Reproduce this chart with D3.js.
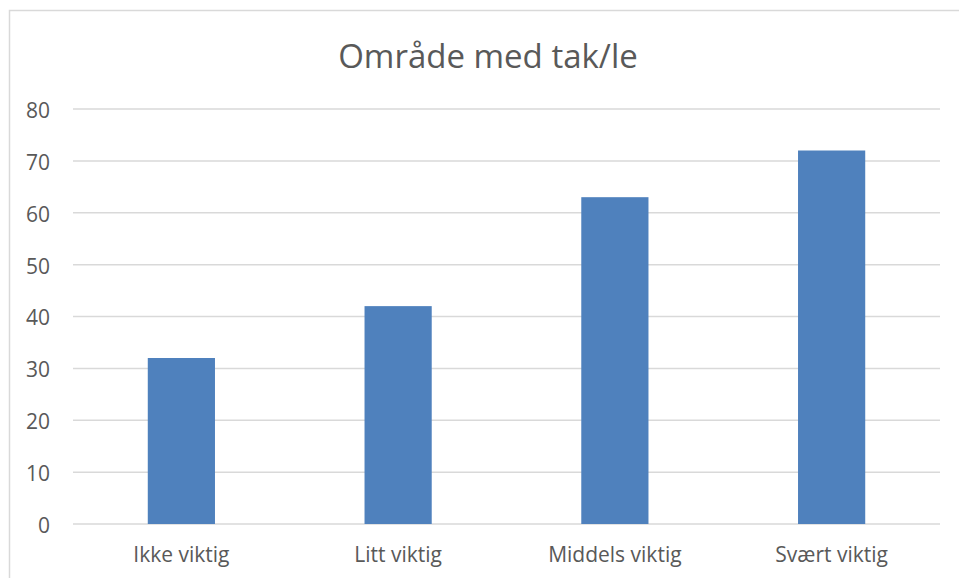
<!DOCTYPE html>
<html>
<head>
<meta charset="utf-8">
<script src="https://cdn.jsdelivr.net/npm/d3@7"></script>
<style>
  body { margin: 0; background: #fff; }
  text { font-family: "Open Sans", sans-serif; fill: #595959; }
</style>
</head>
<body>
<div id="chart"></div>
<script>
// Données
const categories = ["Ikke viktig", "Litt viktig", "Middels viktig", "Svært viktig"];
const values = [32, 42, 63, 72];
const yTicks = [0, 10, 20, 30, 40, 50, 60, 70, 80];
const title = "Område med tak/le";

// Dimensions
const width = 959;
const height = 578;
const margin = { top: 109, right: 19, bottom: 54, left: 73 };

const svg = d3.select("#chart")
    .append("svg")
    .attr("width", width)
    .attr("height", height);

// Cadre du graphique (bords droit et bas hors champ)
svg.append("rect")
    .attr("x", 9.5)
    .attr("y", 10.5)
    .attr("width", 980)
    .attr("height", 600)
    .attr("fill", "none")
    .attr("stroke", "#d9d9d9")
    .attr("stroke-width", 1.5);

const x = d3.scaleBand()
    .domain(categories)
    .range([margin.left, width - margin.right])
    .paddingInner(0.69)
    .paddingOuter(0.345);

const y = d3.scaleLinear()
    .domain([0, 80])
    .range([height - margin.bottom, margin.top]);

// Grille horizontale
svg.append("g")
    .selectAll("line")
    .data(yTicks)
    .enter()
    .append("line")
    .attr("x1", margin.left)
    .attr("x2", width - margin.right)
    .attr("y1", d => y(d))
    .attr("y2", d => y(d))
    .attr("stroke", "#d9d9d9")
    .attr("stroke-width", 1.5);

// Axe Y
const yAxis = svg.append("g")
    .attr("transform", `translate(${margin.left},0)`)
    .call(d3.axisLeft(y).tickValues(yTicks).tickSize(0).tickPadding(23));
yAxis.select(".domain").remove();
yAxis.selectAll("text")
    .attr("dy", "0.4em")
    .style("font-family", "'Open Sans', sans-serif")
    .style("font-size", "21px")
    .attr("fill", "#595959");

// Barres
svg.append("g")
    .selectAll("rect")
    .data(values)
    .enter()
    .append("rect")
    .attr("x", (d, i) => x(categories[i]))
    .attr("y", d => y(d))
    .attr("width", x.bandwidth())
    .attr("height", d => y(0) - y(d))
    .attr("fill", "#4f81bd");

// Axe X
const xAxis = svg.append("g")
    .attr("transform", `translate(0,${y(0)})`)
    .call(d3.axisBottom(x).tickSize(0).tickPadding(23));
xAxis.select(".domain").remove();
xAxis.selectAll("text")
    .style("font-family", "'Open Sans', sans-serif")
    .style("font-size", "21px")
    .attr("fill", "#595959");

// Titre
svg.append("text")
    .attr("x", 488)
    .attr("y", 68)
    .attr("text-anchor", "middle")
    .style("font-size", "33px")
    .text(title);
</script>
</body>
</html>
